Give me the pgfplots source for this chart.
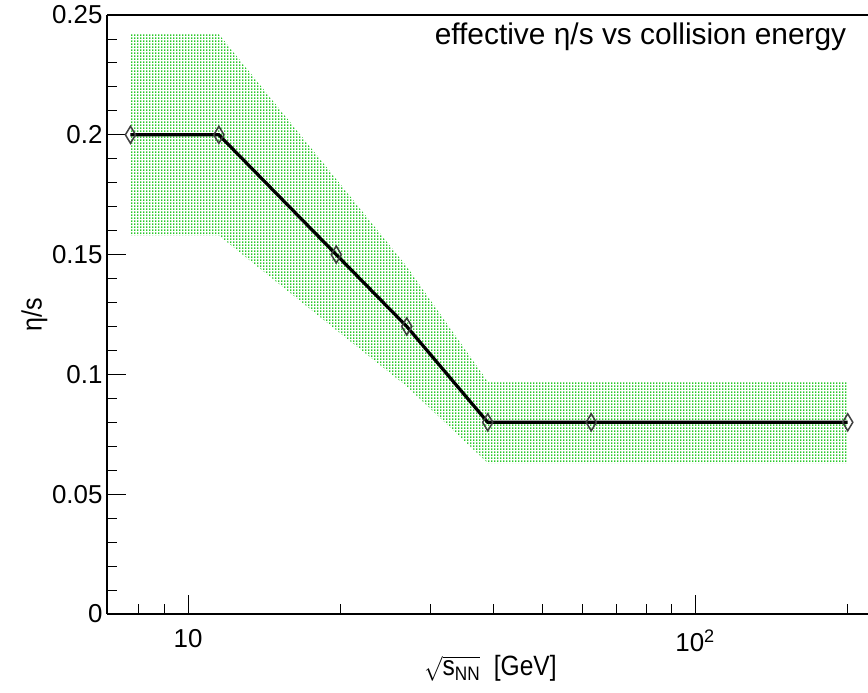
\documentclass[border=0pt]{standalone}
\usepackage{fontspec}
\setmainfont{Liberation Sans}
\usepackage{pgfplots}
\pgfplotsset{compat=1.18}
\usetikzlibrary{patterns}
\pgfdeclarepatternformonly{vdash}{\pgfqpoint{0pt}{0pt}}{\pgfqpoint{3.3bp}{3bp}}{\pgfqpoint{3.3bp}{3bp}}{%
  \pgfpathrectangle{\pgfqpoint{0pt}{0pt}}{\pgfqpoint{1.7bp}{2.2bp}}\pgfusepath{fill}}
\definecolor{bandgreen}{RGB}{40,200,40}
\newcommand{\xtl}{\fontsize{26}{30}\selectfont}
\begin{document}
\begin{tikzpicture}
\useasboundingbox (-107bp,-79bp) rectangle (761bp,614bp);
\begin{axis}[
  at={(0,0)}, anchor=south west,
  scale only axis,
  width=761bp, height=599bp,
  xmode=log,
  xmin=6.92, xmax=219.3,
  ymin=0, ymax=0.25,
  axis x line*=bottom, axis y line*=left,
  axis line style={line width=1.3bp, black},
  tick align=inside,
  major tick length=19bp, minor tick length=10bp,
  tick style={line width=0.9bp, black},
  xtick={10,100}, xticklabels={{\xtl 10},{\xtl 10\textsuperscript{2}}},
  minor xtick={8,9,20,30,40,50,60,70,80,90,200},
  ytick={0,0.05,0.1,0.15,0.2,0.25},
  yticklabels={0,0.05,0.1,0.15,0.2,0.25},
  minor ytick={0.01,0.02,0.03,0.04,0.06,0.07,0.08,0.09,0.11,0.12,0.13,0.14,0.16,0.17,0.18,0.19,0.21,0.22,0.23,0.24},
  yticklabel style={font=\fontsize{26}{30}\selectfont, xshift=-1bp},
  xticklabel style={yshift=-12bp},
  xlabel={\scalebox{0.88}[1]{\fontsize{28}{32}\selectfont$\displaystyle\sqrt{\hbox{s\textsubscript{NN}}}$\ \ [GeV]}},
  xlabel style={at={(rel axis cs:0.504,0)}, anchor=north, yshift=-38bp},
  ylabel={\scalebox{0.9}[1]{\fontsize{28}{32}\selectfont η/s}},
  ylabel style={at={(rel axis cs:0,0.5)}, anchor=south, yshift=56bp},
  clip=false,
]
\addplot[draw=none, pattern=vdash, pattern color=bandgreen] coordinates {
  (7.7,0.242) (11.5,0.242) (19.6,0.1815) (27,0.145) (39,0.097) (62.4,0.097) (200,0.097)
  (200,0.063) (62.4,0.063) (39,0.063) (27,0.095) (19.6,0.1185) (11.5,0.158) (7.7,0.158)
} -- cycle;
\addplot[black, line width=3.2bp, mark=diamond, mark size=8.5bp,
  mark options={xscale=0.8, line width=1.5bp, draw=black!75, fill=none}] coordinates {
  (7.7,0.2) (11.5,0.2) (19.6,0.15) (27,0.12) (39,0.08) (62.4,0.08) (200,0.08)
};
\draw[line width=1.3bp, black] (rel axis cs:0,1) -- (rel axis cs:1,1);
\node[anchor=base east, font=\fontsize{30}{34}\selectfont] at (rel axis cs:0.976,0.951) {effective η/s vs collision energy};
\end{axis}
\end{tikzpicture}
\end{document}
